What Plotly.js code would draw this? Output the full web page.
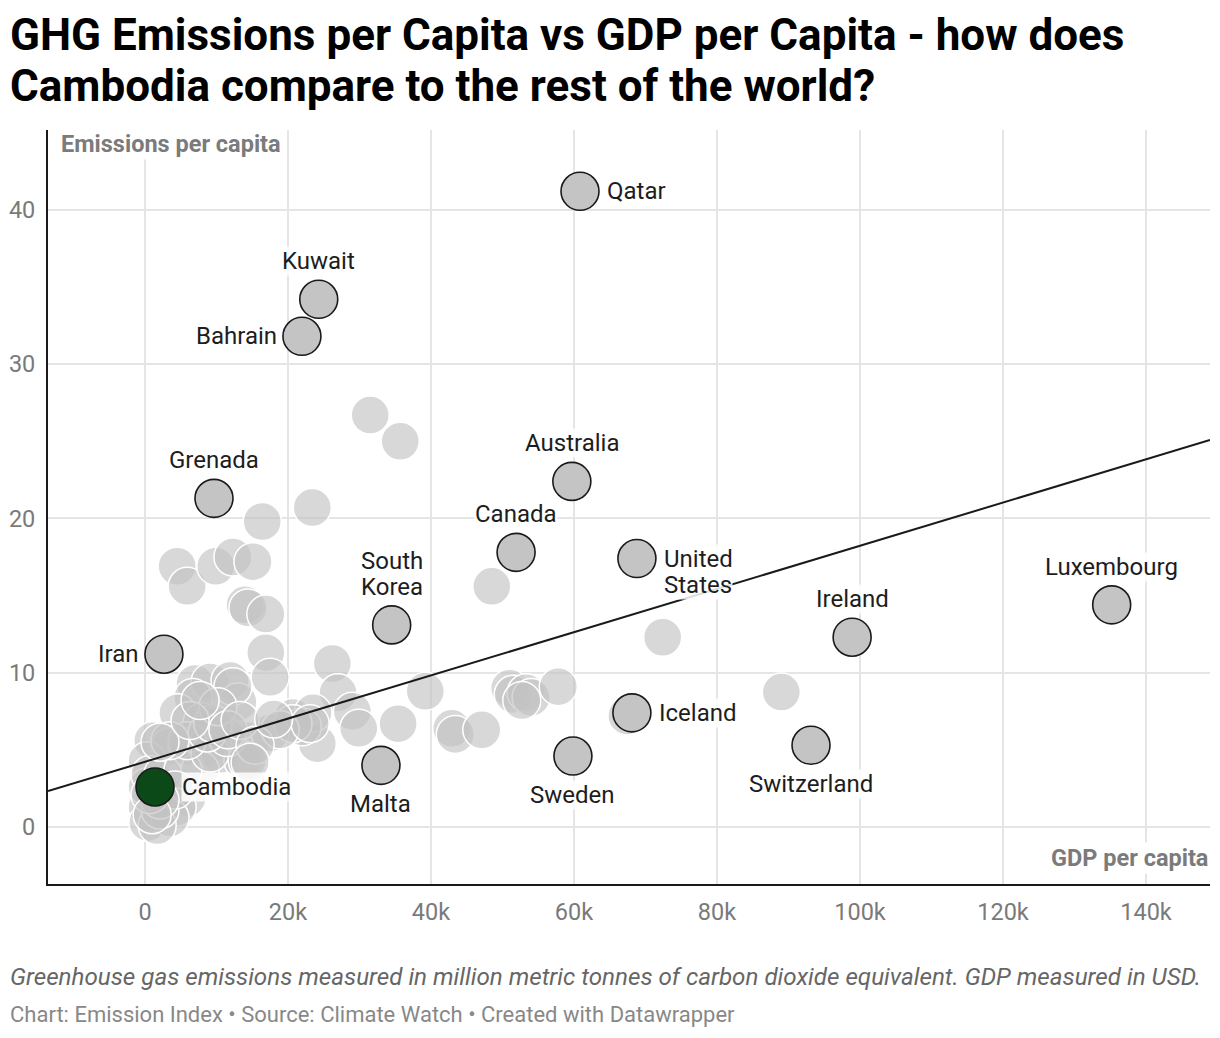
<!DOCTYPE html>
<html>
<head>
<meta charset="utf-8">
<script src="https://cdn.plot.ly/plotly-3.0.1.min.js"></script>
<style>
  html, body { margin: 0; padding: 0; background: #fff; }
  #chart { width: 1220px; height: 1038px; }
</style>
</head>
<body>
<div id="chart"></div>
<script>
// ---- Data ----
// Other countries (unlabelled grey dots): GDP per capita (USD), emissions per capita
const otherGdp = [
  31500, 35700, 23400, 16400, 4500, 5900, 9900, 12300, 15100, 14000,
  14400, 16900, 16900, 17500, 48500, 72400, 26200, 27000, 39200, 29000,
  29900, 35400, 24100, 42900, 43400, 47100, 51000, 51500, 53300, 54000,
  57800, 67400, 89000, 52700, 20700, 23500, 22000,
  7000, 9100, 11900, 6700, 13000, 4600, 8000, 9400, 1100, 3500,
  5900, 8700, 10500, 14700, 17500, 20700, 300, 7700, 13700, 5900,
  4500, 300, 400, 3500, 1700, 2100, 300, 700, 2500, 5300,
  9100, 14300, 11500, 5900, 8700, 9500, 12300, 10200, 18900, 23100,
  3500, 2100, 6300, 7700, 11600, 13300, 4200, 2100, 700, 1000,
  15400, 14700, 18000
];
const otherEmis = [
  26.7, 25.0, 20.7, 19.8, 16.9, 15.6, 16.9, 17.5, 17.2, 14.4,
  14.2, 13.8, 11.3, 9.7, 15.6, 12.3, 10.6, 8.7, 8.8, 7.5,
  6.4, 6.7, 5.4, 6.4, 6.0, 6.3, 9.0, 8.6, 8.7, 8.4,
  9.1, 7.2, 8.75, 8.2, 7.1, 7.4, 6.5,
  9.3, 9.4, 9.5, 8.4, 8.1, 7.4, 6.8, 6.5, 5.6, 5.2,
  5.2, 5.2, 4.7, 5.6, 6.1, 6.7, 4.3, 3.7, 4.3, 1.9,
  1.3, 1.3, 0.3, 0.6, 0.1, 1.1, 2.6, 3.4, 3.4, 3.7,
  4.8, 4.3, 5.8, 5.6, 6.1, 6.7, 9.1, 7.8, 6.3, 6.7,
  5.6, 5.5, 6.9, 8.2, 6.3, 6.9, 2.4, 1.75, 2.1, 0.8,
  5.3, 4.2, 7.0
];

// Labelled countries
const hlNames = ["Qatar", "Kuwait", "Bahrain", "Grenada", "Australia", "Canada",
  "United<br>States", "South<br>Korea", "Iran", "Luxembourg", "Ireland", "Iceland",
  "Switzerland", "Sweden", "Malta"];
const hlGdp = [60840, 24300, 21950, 9650, 59700, 51900, 68800, 34500, 2650,
  135200, 98900, 68100, 93150, 59850, 33000];
const hlEmis = [41.2, 34.2, 31.8, 21.3, 22.4, 17.8, 17.4, 13.1, 11.2,
  14.4, 12.3, 7.4, 5.3, 4.6, 4.0];
// label placement: r = right of dot, l = left, t = above, b = below
const hlPos = ["r", "t", "l", "t", "t", "t", "r", "t", "l", "t", "t", "r", "b", "b", "b"];

// Focus country
const focusName = ["Cambodia"];
const focusGdp = [1400];
const focusEmis = [2.6];

// Trend line (end points read at the plot edges)
const trendGdp = [-13566, 148951];
const trendEmis = [2.33, 25.08];

// Axis ticks
const xTickVals = [0, 20000, 40000, 60000, 80000, 100000, 120000, 140000];
const xTickText = ["0", "20k", "40k", "60k", "80k", "100k", "120k", "140k"];
const yTickVals = [0, 10, 20, 30, 40];

// ---- Chart ----
const FONT = "Roboto, 'Noto Sans', sans-serif";
const DOT = 38;
const LBL = 24;
const LINE_GAP = 26;

const traces = [
  {
    type: "scatter", mode: "markers", x: otherGdp, y: otherEmis,
    hoverinfo: "skip",
    marker: { size: DOT, color: "rgba(195,195,195,0.65)", line: { color: "#ffffff", width: 1.5 } }
  },
  {
    type: "scatter", mode: "lines", x: trendGdp, y: trendEmis,
    hoverinfo: "skip",
    line: { color: "#1a1a1a", width: 2 }
  },
  {
    type: "scatter", mode: "markers", x: hlGdp, y: hlEmis,
    text: hlNames, hoverinfo: "text",
    marker: { size: DOT, color: "#c4c4c4", line: { color: "#1a1a1a", width: 1.6 } }
  },
  {
    type: "scatter", mode: "markers", x: focusGdp, y: focusEmis,
    text: focusName, hoverinfo: "text",
    marker: { size: DOT, color: "#0b4a18", line: { color: "#1a1a1a", width: 1.6 } }
  }
];

const annotations = [];
const allNames = hlNames.concat(focusName);
const allX = hlGdp.concat(focusGdp);
const allY = hlEmis.concat(focusEmis);
const allPos = hlPos.concat(["r"]);
allNames.forEach((n, i) => {
  const p = allPos[i];
  const lines = n.split("<br>");
  lines.forEach((ln, k) => {
    const a = {
      x: allX[i], y: allY[i], xref: "x", yref: "y", text: ln, showarrow: false,
      font: { family: FONT, size: LBL, color: "#1d1d1d" },
      bgcolor: "rgba(255,255,255,0.85)", borderpad: 0, yanchor: "middle"
    };
    const fromEnd = lines.length - 1 - k;
    if (p === "r") { a.xanchor = "left"; a.xshift = 26; a.yshift = -k * LINE_GAP; }
    if (p === "l") { a.xanchor = "right"; a.xshift = -24; a.yshift = -k * LINE_GAP; }
    if (p === "t") { a.xanchor = "center"; a.yshift = 38 + fromEnd * LINE_GAP; }
    if (p === "b") { a.xanchor = "center"; a.yshift = -39 - k * LINE_GAP; }
    annotations.push(a);
  });
});

annotations.push(
  { xref: "paper", yref: "paper", x: 0, y: 1.1260, xanchor: "left", yanchor: "middle", xshift: -40,
    text: "<b>GHG Emissions per Capita vs GDP per Capita - how does</b>", showarrow: false,
    font: { family: FONT, size: 44, color: "#000000" } },
  { xref: "paper", yref: "paper", x: 0, y: 1.0590, xanchor: "left", yanchor: "middle", xshift: -40,
    text: "<b>Cambodia compare to the rest of the world?</b>", showarrow: false,
    font: { family: FONT, size: 44, color: "#000000" } },
  { xref: "paper", yref: "paper", x: 0.0095, y: 1.0, xanchor: "left", yanchor: "top", yshift: 2,
    text: "<b>Emissions per capita</b>", showarrow: false,
    font: { family: FONT, size: 23.5, color: "#7b7b7b" }, bgcolor: "#ffffff", borderpad: 1 },
  { xref: "paper", yref: "paper", x: 1.0, y: 0.0, xanchor: "right", yanchor: "bottom", yshift: 10,
    text: "<b>GDP per capita</b>", showarrow: false,
    font: { family: FONT, size: 23.5, color: "#7b7b7b" }, bgcolor: "#ffffff", borderpad: 1 },
  { xref: "paper", yref: "paper", x: 0, y: 0, xshift: -40, yshift: -93, xanchor: "left", yanchor: "middle",
    text: "<i>Greenhouse gas emissions measured in million metric tonnes of carbon dioxide equivalent. GDP measured in USD.</i>",
    showarrow: false, font: { family: FONT, size: 24.2, color: "#666666" } },
  { xref: "paper", yref: "paper", x: 0, y: 0, xshift: -40, yshift: -130, xanchor: "left", yanchor: "middle",
    text: "Chart: Emission Index • Source: Climate Watch • Created with Datawrapper",
    showarrow: false, font: { family: FONT, size: 22, color: "#888888" } }
);

const layout = {
  width: 1220, height: 1038,
  margin: { l: 48, r: 10, t: 130, b: 154 },
  paper_bgcolor: "#ffffff", plot_bgcolor: "#ffffff",
  showlegend: false,
  xaxis: {
    range: [-13566, 148951], tickvals: xTickVals, ticktext: xTickText,
    showgrid: true, gridcolor: "#e5e5e5", gridwidth: 2, zeroline: false,
    showline: true, linecolor: "#1a1a1a", linewidth: 2, ticks: "",
    ticklabelstandoff: 6,
    tickfont: { family: FONT, size: 23.5, color: "#7a7a7a" }, fixedrange: true
  },
  yaxis: {
    range: [-3.69, 45.17], tickvals: yTickVals,
    showgrid: true, gridcolor: "#e5e5e5", gridwidth: 2, zeroline: false,
    showline: true, linecolor: "#1a1a1a", linewidth: 2, ticks: "",
    ticklabelstandoff: 6,
    tickfont: { family: FONT, size: 23.5, color: "#7a7a7a" }, fixedrange: true
  },
  annotations: annotations
};

Plotly.newPlot("chart", traces, layout, { displayModeBar: false, staticPlot: true });
</script>
</body>
</html>
